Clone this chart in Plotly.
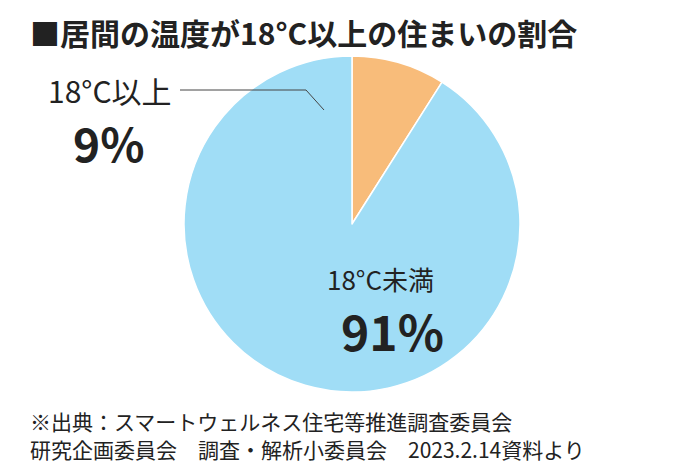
import plotly.graph_objects as go

labels = ["18°C以上", "18°C未満"]
values = [9, 91]
colors = ["#f8bc7a", "#a0ddf6"]

W, H = 681, 475
def px(x): return x / W
def py(y): return 1 - y / H

fig = go.Figure(go.Pie(
    labels=labels, values=values, sort=False, direction="clockwise",
    rotation=0, marker=dict(colors=colors, line=dict(color="white", width=1.5)),
    textinfo="none", hoverinfo="label+percent", showlegend=False,
    domain=dict(x=[px(176), px(512)], y=[py(384), py(48)])))

F = "Noto Sans CJK JP"
ann = [
    dict(x=px(20), y=py(24), text="<b>■居間の温度が18°C以上の住まいの割合</b>", size=30, xanchor="left"),
    dict(x=px(102), y=py(82), text="18°C以上", size=30, xanchor="center"),
    dict(x=px(100), y=py(134), text="<b>9%</b>", size=46, xanchor="center"),
    dict(x=px(372), y=py(270), text="18°C未満", size=26, xanchor="center"),
    dict(x=px(384), y=py(322), text="<b>91%</b>", size=48, xanchor="center"),
    dict(x=px(20), y=py(413), text="※出典：スマートウェルネス住宅等推進調査委員会", size=21, xanchor="left"),
    dict(x=px(20), y=py(441), text="研究企画委員会　調査・解析小委員会　2023.2.14資料より", size=21, xanchor="left"),
]
fig.update_layout(
    width=W, height=H, margin=dict(l=0, r=0, t=0, b=0),
    paper_bgcolor="white", font=dict(family=F, color="#222"),
    annotations=[dict(x=a["x"], y=a["y"], text=a["text"], xref="paper", yref="paper",
                      xanchor=a["xanchor"], yanchor="middle", showarrow=False,
                      font=dict(size=a["size"], family=F, color="#222")) for a in ann],
    shapes=[
        dict(type="line", xref="paper", yref="paper", x0=px(172), y0=py(82), x1=px(298), y1=py(82), line=dict(color="#444", width=1)),
        dict(type="line", xref="paper", yref="paper", x0=px(298), y0=py(82), x1=px(316), y1=py(102), line=dict(color="#444", width=1)),
    ])
fig.write_html("out.html")
